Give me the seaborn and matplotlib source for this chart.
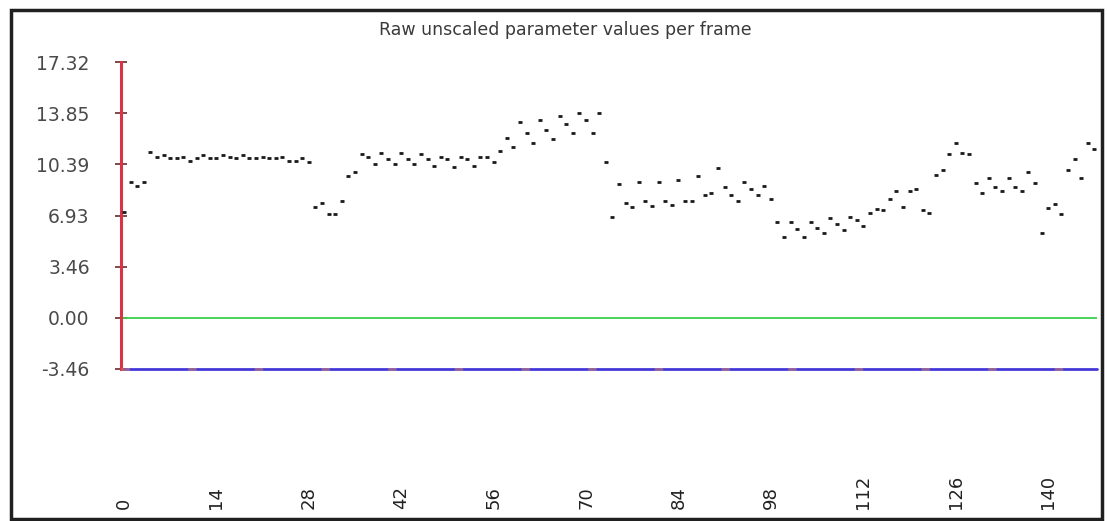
import matplotlib
matplotlib.use("Agg")
import matplotlib.pyplot as plt
import matplotlib.patches as mpatches
import pandas as pd
import seaborn as sns

# values, one per frame
values = [
    7.20, 9.22, 8.95, 9.22,
    11.20, 10.90, 11.05, 10.80, 10.80, 10.90, 10.65, 10.80, 11.05, 10.80,
    10.80, 11.05, 10.90, 10.80, 11.05, 10.80, 10.80, 10.90, 10.80, 10.80,
    10.90, 10.65, 10.65, 10.80, 10.55,
    7.53, 7.76, 7.01, 7.01, 7.94, 9.61, 9.90, 11.07, 10.92, 10.40,
    11.14, 10.78, 10.40, 11.14, 10.78, 10.40, 11.07, 10.78, 10.28, 10.92,
    10.78, 10.19, 10.92, 10.78, 10.28, 10.92, 10.92, 10.56, 11.30, 12.20,
    11.55, 13.24, 12.50, 11.82, 13.40, 12.72, 12.09, 13.67, 13.13, 12.50,
    13.89, 13.40, 12.50, 13.89, 10.53, 6.86, 9.07, 7.80, 7.53, 9.22,
    7.94, 7.58, 9.22, 7.94, 7.65, 9.34, 7.94, 7.94, 9.61, 8.32,
    8.43, 10.13, 8.84, 8.32, 7.92, 9.22, 8.71, 8.32, 8.95, 8.05,
    6.47, 5.46, 6.47, 6.02, 5.50, 6.52, 6.11, 5.73, 6.75, 6.36,
    5.95, 6.86, 6.63, 6.22, 7.13, 7.40, 7.31, 8.05, 8.59, 7.53,
    8.59, 8.71, 7.31, 7.08, 9.68, 10.01, 11.07, 11.82, 11.18, 11.07,
    9.11, 8.43, 9.49, 8.84, 8.59, 9.49, 8.84, 8.59, 9.90, 9.16,
    5.73, 7.42, 7.69, 7.01, 10.01, 10.78, 9.45, 11.82, 11.41,
]
frames = list(range(len(values)))

y_ticks = [-3.46, 0.00, 3.46, 6.93, 10.39, 13.85, 17.32]
x_ticks = [0, 14, 28, 42, 56, 70, 84, 98, 112, 126, 140]
title = "Raw unscaled parameter values per frame"

df = pd.DataFrame({"frame": frames, "value": values})

sns.set_theme(style="white")
plt.rcParams["lines.scale_dashes"] = False

W, H = 1107, 521
fig = plt.figure(figsize=(W / 100, H / 100), dpi=100)
ax = fig.add_axes([121 / W, (H - 369) / H, (1097 - 121) / W, (369 - 62) / H])

# reference lines at 0 and at the bottom of the range
ax.axhline(0.0, color="#3ccf4e", linewidth=1.3, zorder=1)
ax.axhline(y_ticks[0], color="#4538d8", linewidth=2.0, zorder=2, clip_on=False)
ax.axhline(y_ticks[0], color="#f09050", linewidth=2.0, linestyle=(0, (6, 42)),
           alpha=0.45, zorder=3, clip_on=False)

sns.scatterplot(data=df, x="frame", y="value", marker="_", s=11,
                color="#1a1a1a", linewidth=2.0, ax=ax, zorder=4, legend=False)

ax.set_xlim(-0.45, 147.4)
ax.set_ylim(y_ticks[0], y_ticks[-1])

for side in ["top", "right", "bottom"]:
    ax.spines[side].set_visible(False)
ax.spines["left"].set_color("#d83445")
ax.spines["left"].set_linewidth(2.2)

ax.set_yticks(y_ticks)
ax.set_yticklabels([f"{v:.2f}" for v in y_ticks], fontsize=13.5,
                   color="#4a4a4a", fontfamily="DejaVu Sans")
ax.tick_params(axis="y", direction="inout", length=9, width=1.2,
               color="#6a2a2a", pad=18, left=True)

ax.set_xticks(x_ticks)
ax.set_xticklabels([str(v) for v in x_ticks], rotation=90, fontsize=13,
                   fontfamily="DejaVu Sans", color="#222222", va="bottom")
ax.tick_params(axis="x", length=0, pad=101)

ax.set_xlabel("")
ax.set_ylabel("")
ax.grid(False)

fig.text(565 / W, 1 - 30 / H, title, ha="center", va="center",
         fontsize=12.5, color="#3a3a3a", fontfamily="DejaVu Sans")

# dark frame around the whole picture
fig.patches.append(mpatches.Rectangle((11 / W, 2 / H), (1102 - 11) / W, (511 - 2) / H,
                                      transform=fig.transFigure, fill=False,
                                      edgecolor="#202020", linewidth=2.5))

fig.savefig("out.png", dpi=100)
